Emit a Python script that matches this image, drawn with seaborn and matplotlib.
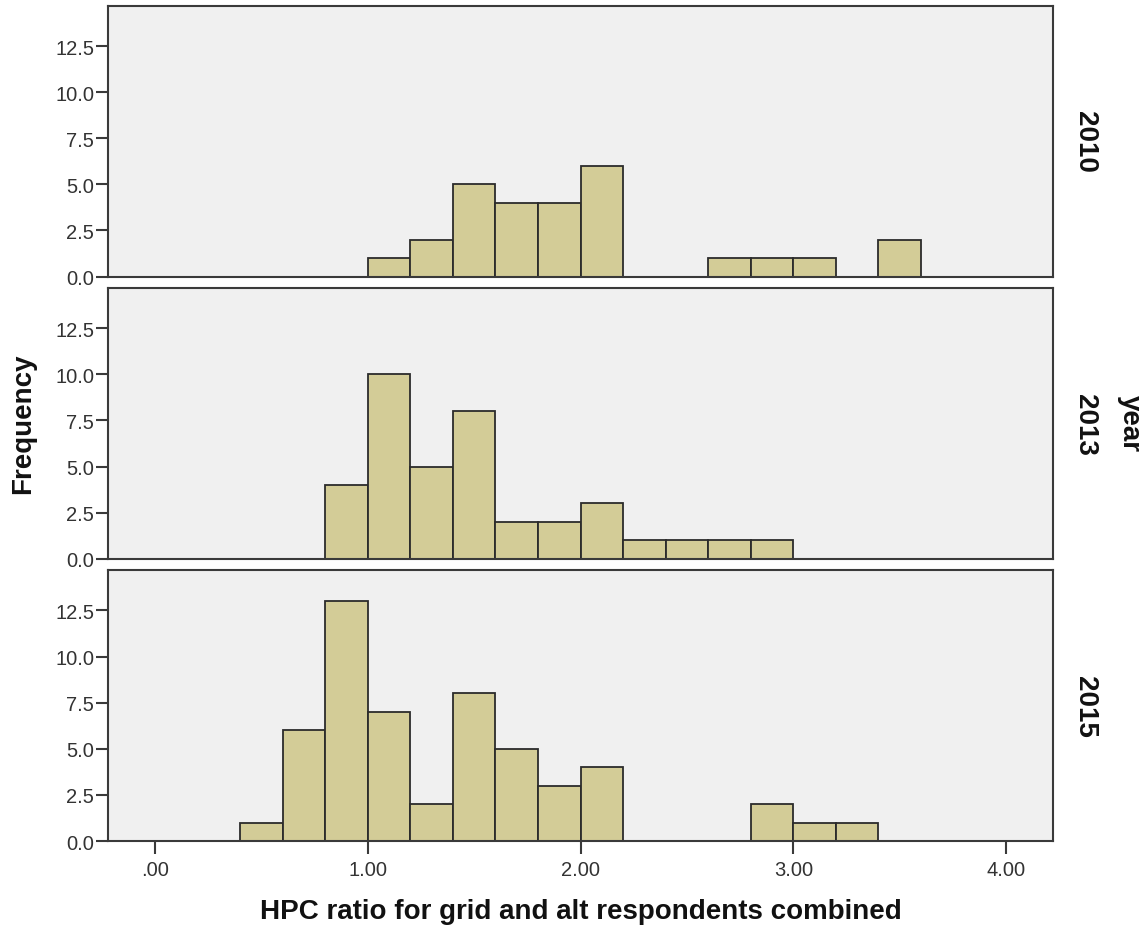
import numpy as np
import pandas as pd
import matplotlib
matplotlib.use("Agg")
import matplotlib.pyplot as plt
import seaborn as sns
from matplotlib.ticker import FuncFormatter, MultipleLocator

# bin centres (bin width 0.2) and frequencies
BIN_CENTRES = [0.5, 0.7, 0.9, 1.1, 1.3, 1.5, 1.7, 1.9, 2.1, 2.3, 2.5, 2.7, 2.9, 3.1, 3.3, 3.5]
COUNTS_2010 = [0, 0, 0, 1, 2, 5, 4, 4, 6, 0, 0, 1, 1, 1, 0, 2]
COUNTS_2013 = [0, 0, 4, 10, 5, 8, 2, 2, 3, 1, 1, 1, 1, 0, 0, 0]
COUNTS_2015 = [1, 6, 13, 7, 2, 8, 5, 3, 4, 0, 0, 0, 2, 1, 1, 0]
YEARS = [2010, 2013, 2015]

BAR_COLOR = "#D3CC97"
PANEL_BG = "#F0F0F0"
EDGE = "#2b2b2b"

frames = []
for yr, cnt in zip(YEARS, [COUNTS_2010, COUNTS_2013, COUNTS_2015]):
    frames.append(pd.DataFrame({"ratio": BIN_CENTRES, "count": cnt, "year": yr}))
df = pd.concat(frames, ignore_index=True)
df = df[df["count"] > 0]

edges = [round(0.4 + 0.2 * k, 2) for k in range(17)]

sns.set_style("white")
plt.rcParams["font.family"] = ["Liberation Sans", "DejaVu Sans"]
plt.rcParams["text.color"] = "#111111"

g = sns.FacetGrid(df, row="year", row_order=YEARS, margin_titles=True,
                  sharex=True, sharey=True, height=3, aspect=3.5,
                  despine=False)
g.map_dataframe(sns.histplot, x="ratio", weights="count", bins=edges,
                color=BAR_COLOR, alpha=1, edgecolor=EDGE, linewidth=1.3)

g.figure.set_size_inches(11.48, 9.28)
g.set(xlim=(-0.22, 4.22), ylim=(0, 14.67))
g.set_axis_labels("", "")
g.set_titles(row_template="{row_name}", size=20, fontweight="bold", color="#111111")

for i, ax in enumerate(g.axes.flat):
    ax.set_facecolor(PANEL_BG)
    for sp in ax.spines.values():
        sp.set_color("#3a3a3a")
        sp.set_linewidth(1.5)
    ax.yaxis.set_major_locator(MultipleLocator(2.5))
    ax.yaxis.set_major_formatter(FuncFormatter(lambda v, p: f"{v:.1f}"))
    ax.tick_params(axis="y", left=True, length=9, width=1.5, color="#3a3a3a",
                   labelsize=14.5, labelcolor="#333333", pad=1)
    if i < len(YEARS) - 1:
        ax.tick_params(axis="x", bottom=False, labelbottom=False)
    else:
        ax.xaxis.set_major_locator(MultipleLocator(1.0))
        ax.xaxis.set_major_formatter(FuncFormatter(
            lambda v, p: f"{v:.2f}"[1:] if abs(v) < 1e-9 else f"{v:.2f}"))
        ax.tick_params(axis="x", bottom=True, length=9, width=1.5, color="#3a3a3a",
                       labelsize=14.5, labelcolor="#333333", pad=5)

for t in g.figure.texts:
    t.set_rotation(270)

g.figure.subplots_adjust(left=108 / 1148, right=1053 / 1148,
                         top=1 - 7 / 928, bottom=1 - 842 / 928, hspace=0.043)

g.figure.text(23 / 1148, 1 - 424 / 928, "Frequency", rotation=90, fontsize=20,
              fontweight="bold", ha="center", va="center")
g.figure.text((155 + 212.7 * 2) / 1148, 1 - 912 / 928,
              "HPC ratio for grid and alt respondents combined", fontsize=20,
              fontweight="bold", ha="center", va="center")
g.figure.text(1130 / 1148, 1 - 424 / 928, "year", rotation=270, fontsize=20,
              fontweight="bold", ha="center", va="center")

g.figure.savefig("out.png", dpi=100)
